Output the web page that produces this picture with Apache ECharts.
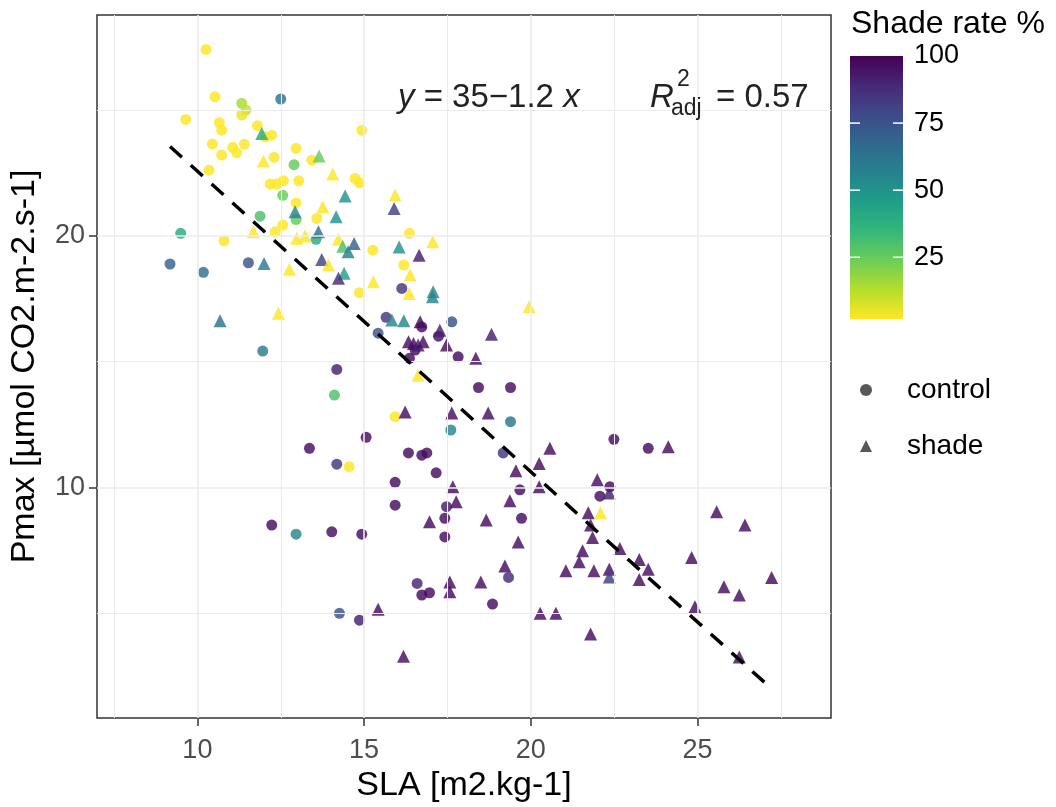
<!DOCTYPE html>
<html>
<head>
<meta charset="utf-8">
<script src="https://cdn.jsdelivr.net/npm/echarts@6/dist/echarts.min.js"></script>
<style>html,body{margin:0;padding:0;background:#fff}#c{width:1056px;height:807px}</style>
</head>
<body>
<div id="c"></div>
<script>
// ---- data ----
const controlSLA   = [10.26,10.53,12.50,9.65,11.33,11.46,11.33,10.66,10.73,11.80,12.03,12.23,14.93,10.45,11.06,11.18,11.41,10.73,12.96,12.30,10.35,12.90,13.43,14.73,14.86,12.18,12.38,12.58,13.04,12.56,12.96,11.88,12.96,13.58,9.50,10.80,12.56,12.33,13.56,15.26,9.18,10.18,11.53,14.86,15.66,15.42,11.96,14.18,14.11,15.06,13.36,14.18,14.55,12.23,12.96,14.03,14.93,14.26,14.86,16.36,16.19,16.13,16.73,17.63,17.23,16.53,16.36,17.82,18.43,19.39,15.93,17.60,19.39,16.33,16.73,16.88,19.17,17.16,15.93,22.49,22.37,19.67,15.93,22.07,17.47,17.42,19.72,17.42,19.33,16.59,16.73,16.96,18.85,23.52];
const controlPmax  = [27.41,25.53,25.44,24.63,25.27,25.00,24.80,24.50,24.20,24.38,23.94,24.00,24.20,23.65,23.52,23.30,23.64,23.21,23.48,23.12,22.61,22.83,23.01,22.28,22.11,22.06,22.06,22.19,22.19,21.61,21.31,20.78,20.65,20.69,20.10,19.80,20.43,20.16,19.86,19.43,18.88,18.55,18.93,17.74,16.76,16.13,15.42,14.69,13.67,11.99,11.55,10.92,10.82,8.50,8.14,8.23,8.14,4.99,4.72,20.10,18.84,17.91,16.38,16.58,16.01,15.46,15.13,15.19,13.97,13.97,12.81,12.28,12.61,11.37,11.28,11.37,11.37,10.58,10.20,11.91,10.02,9.90,9.29,9.65,9.23,8.77,8.77,8.03,6.42,6.18,5.72,5.81,5.36,11.55];
const controlShade = [2,2,62,2,15,10,5,2,2,2,2,2,2,2,2,2,2,2,2,2,2,25,2,2,2,2,2,2,2,25,2,30,25,2,40,2,2,2,40,2,70,65,75,2,85,75,60,92,30,97,97,85,2,97,55,97,97,75,92,2,2,85,97,75,97,97,97,97,97,97,2,55,62,97,97,97,85,97,97,97,97,97,97,97,92,97,97,97,88,90,97,97,97,97];

const shadeSLA   = [11.93,11.98,13.65,14.06,14.43,12.93,13.76,14.16,11.68,12.98,13.23,13.63,14.23,14.36,14.70,14.52,12.00,12.76,13.73,13.93,14.40,14.23,15.28,10.68,12.43,15.93,15.90,16.05,16.65,17.06,16.38,16.35,17.07,17.05,19.95,15.83,16.19,16.68,17.27,18.82,16.33,16.48,16.62,16.77,17.47,18.35,16.62,16.23,17.63,18.72,20.57,20.25,19.55,21.99,17.66,20.25,24.12,22.35,17.76,16.96,18.66,19.37,19.62,21.72,22.09,21.79,21.85,22.67,21.55,21.45,21.05,21.89,22.35,22.35,19.22,18.50,17.57,17.57,15.42,20.28,20.75,21.79,16.18,25.57,26.42,24.82,27.22,25.79,26.25,24.92,26.25,23.25,23.52,23.25];
const shadePmax  = [24.07,22.98,23.17,22.46,21.58,20.96,21.16,20.76,20.16,19.90,19.99,20.16,19.86,19.59,19.70,19.37,18.90,18.67,19.06,18.84,18.51,18.31,18.17,16.62,16.92,21.62,21.09,19.56,19.23,19.76,18.44,17.71,17.78,17.58,17.18,16.65,16.62,16.58,16.25,16.09,15.79,15.72,15.66,15.79,15.66,15.13,14.46,13.00,12.96,12.96,11.55,10.95,10.66,10.30,10.02,10.02,11.61,9.78,9.43,8.63,8.70,9.47,7.83,8.99,8.99,8.50,8.01,7.57,7.48,7.04,6.68,6.68,6.74,6.44,6.87,6.24,6.24,5.85,5.15,4.99,4.99,4.17,3.29,9.03,8.50,7.21,6.42,6.05,5.72,5.25,3.26,7.13,6.74,6.34];
const shadeShade = [40,2,25,2,50,55,2,50,2,2,2,65,2,30,70,58,60,2,80,2,45,88,2,62,2,2,82,50,92,2,2,2,55,55,2,55,55,97,92,92,97,97,92,97,97,97,2,97,97,97,97,97,97,97,97,97,97,92,97,97,97,97,97,97,2,97,97,97,97,97,97,97,97,82,97,97,97,97,97,97,97,97,97,97,97,97,97,97,97,97,97,97,97,97];

const xMajorTicks = [10, 15, 20, 25];
const xMinorTicks = [7.5, 12.5, 17.5, 22.5, 27.5];
const yMajorTicks = [10, 20];
const yMinorTicks = [5, 15, 25];
const colorbarTicks = [25, 50, 75, 100];
const shadeRange = [2, 100];
const fitIntercept = 34.52;
const fitSlope = -1.195;

// ---- build ----
const viridis = ['#FDE725','#B4DE2C','#6DCD59','#35B779','#1F9E89','#26828E','#31688E','#3E4A89','#482878','#440154'];
const FONT = "'Liberation Sans', Arial, sans-serif";
const zip = (a, b, c) => a.map((v, i) => [v, b[i], c[i]]);
const allX = controlSLA.concat(shadeSLA);
const xLo = Math.min(...allX), xHi = Math.max(...allX);
const fitLine = [[xLo, fitIntercept + fitSlope * xLo], [xHi, fitIntercept + fitSlope * xHi]];

const grid = {left: 97, right: 225, top: 15, bottom: 89};
const bar = {x: 850, y: 56, w: 53, h: 263};
const cbY = v => bar.y + (shadeRange[1] - v) / (shadeRange[1] - shadeRange[0]) * bar.h;

const graphics = [];
graphics.push({
  type: 'rect', z: 100, shape: {x: bar.x, y: bar.y, width: bar.w, height: bar.h},
  style: {fill: {type: 'linear', x: 0, y: 0, x2: 0, y2: 1,
    colorStops: viridis.slice().reverse().map((c, i) => ({offset: i / (viridis.length - 1), color: c}))}}
});
colorbarTicks.forEach(v => {
  const y = cbY(v);
  if (v < shadeRange[1]) {
    graphics.push({type: 'line', z: 101, shape: {x1: bar.x, y1: y, x2: bar.x + 10, y2: y}, style: {stroke: '#fff', lineWidth: 1.5}});
    graphics.push({type: 'line', z: 101, shape: {x1: bar.x + bar.w - 10, y1: y, x2: bar.x + bar.w, y2: y}, style: {stroke: '#fff', lineWidth: 1.5}});
  }
  graphics.push({type: 'text', z: 100, x: 914, y: y, style: {text: String(v), font: '27px ' + FONT, fill: '#000', verticalAlign: 'middle', align: 'left'}});
});
graphics.push({type: 'text', z: 100, x: 851, y: 24, style: {text: 'Shade rate %', font: '32px ' + FONT, fill: '#000', verticalAlign: 'middle'}});
// annotation
graphics.push({type: 'text', z: 100, x: 398, y: 98, style: {
  text: '{i|y} = 35\u22121.2 {i|x}', verticalAlign: 'middle', font: '33px ' + FONT, fill: '#222',
  rich: {i: {fontStyle: 'italic', fontSize: 33, fontFamily: FONT, fill: '#222'}}}});
graphics.push({type: 'text', z: 100, x: 650, y: 98, style: {text: 'R', font: 'italic 33px ' + FONT, fill: '#222', verticalAlign: 'middle'}});
graphics.push({type: 'text', z: 100, x: 677, y: 80, style: {text: '2', font: '23px ' + FONT, fill: '#222', verticalAlign: 'middle'}});
graphics.push({type: 'text', z: 100, x: 671, y: 109, style: {text: 'adj', font: '23px ' + FONT, fill: '#222', verticalAlign: 'middle'}});
graphics.push({type: 'text', z: 100, x: 716, y: 98, style: {text: '= 0.57', font: '33px ' + FONT, fill: '#222', verticalAlign: 'middle'}});

const gridLine = (axis, v, w) => ({[axis]: v, lineStyle: {color: '#EBEBEB', width: w, type: 'solid'}});

const option = {
  animation: false,
  backgroundColor: '#fff',
  textStyle: {fontFamily: FONT},
  grid: Object.assign({show: true, borderColor: '#333', borderWidth: 1.5, containLabel: false, outerBoundsMode: 'none', backgroundColor: 'transparent'}, grid),
  xAxis: {
    type: 'value', min: 6.99, max: 29.0,
    name: 'SLA [m2.kg-1]', nameLocation: 'middle', nameGap: 46,
    nameTextStyle: {fontSize: 34, color: '#000', fontFamily: FONT},
    axisLine: {show: false},
    axisTick: {show: true, length: 8, lineStyle: {color: '#333', width: 1.5}, customValues: xMajorTicks},
    axisLabel: {customValues: xMajorTicks, fontSize: 27, color: '#4D4D4D', margin: 19, fontFamily: FONT},
    splitLine: {show: false}
  },
  yAxis: {
    type: 'value', min: 0.83, max: 28.78,
    name: 'Pmax [µmol CO2.m-2.s-1]', nameLocation: 'middle', nameGap: 55,
    nameTextStyle: {fontSize: 34, color: '#000', fontFamily: FONT},
    axisLine: {show: false},
    axisTick: {show: true, length: 8, lineStyle: {color: '#333', width: 1.5}, customValues: yMajorTicks},
    axisLabel: {customValues: yMajorTicks, fontSize: 27, color: '#4D4D4D', margin: 12, fontFamily: FONT},
    splitLine: {show: false}
  },
  visualMap: {
    type: 'continuous', show: false, dimension: 2, min: shadeRange[0], max: shadeRange[1],
    seriesIndex: [1, 2], inRange: {color: viridis}
  },
  legend: {
    orient: 'vertical', left: 855, top: 370, itemWidth: 12, itemHeight: 12, itemGap: 26,
    textStyle: {fontSize: 28, color: '#000', padding: [0, 0, 0, 30], lineHeight: 30, fontFamily: FONT},
    data: [
      {name: 'control', icon: 'circle', itemStyle: {color: '#333'}},
      {name: 'shade', icon: 'triangle', itemStyle: {color: '#333'}}
    ]
  },
  graphic: graphics,
  series: [
    {
      type: 'line', data: [], z: 1, silent: true,
      markLine: {
        silent: true, symbol: 'none', label: {show: false}, animation: false,
        data: [].concat(
          xMinorTicks.map(v => gridLine('xAxis', v, 1)),
          xMajorTicks.map(v => gridLine('xAxis', v, 1.6)),
          yMinorTicks.map(v => gridLine('yAxis', v, 1)),
          yMajorTicks.map(v => gridLine('yAxis', v, 1.6))
        )
      }
    },
    {name: 'control', type: 'scatter', symbol: 'circle', symbolSize: 11, z: 3,
     itemStyle: {opacity: 0.82}, data: zip(controlSLA, controlPmax, controlShade)},
    {name: 'shade', type: 'scatter', symbol: 'triangle', symbolSize: 13, z: 3,
     itemStyle: {opacity: 0.82}, data: zip(shadeSLA, shadePmax, shadeShade)},
    {type: 'line', data: fitLine, z: 5, symbol: 'none', silent: true,
     lineStyle: {color: '#000', width: 3.5, type: [16, 12]}}
  ]
};
echarts.init(document.getElementById('c')).setOption(option);
</script>
</body>
</html>
